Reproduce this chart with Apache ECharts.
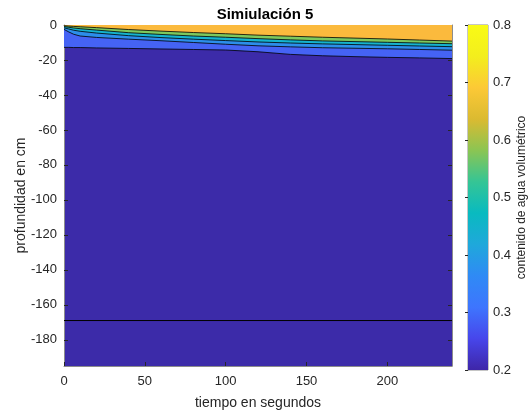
<!DOCTYPE html>
<html>
<head>
<meta charset="utf-8">
<script src="https://cdn.jsdelivr.net/npm/echarts@6/dist/echarts.min.js"></script>
<style>
  html, body { margin: 0; padding: 0; background: #fff; }
  #chart { width: 529px; height: 415px; }
</style>
</head>
<body>
<div id="chart"></div>
<script>
// Time samples (s) shared by every contour line
const tiempo = [0, 3, 6, 10, 20, 40, 60, 80, 100, 120, 140, 160, 180, 200, 220, 240];

// Depth (cm) of each water-content contour along time
const nivel03 = [-12.8, -12.8, -12.9, -12.9, -13.1, -13.4, -13.7, -14.0, -14.3, -15.3, -16.8, -17.6, -18.1, -18.5, -18.8, -19.2];
const nivel04 = [-2.5, -4.0, -5.3, -6.3, -7.1, -8.1, -9.0, -10.0, -11.0, -11.9, -12.5, -13.0, -13.3, -13.6, -14.0, -14.4];
const nivel05 = [-1.6, -2.3, -3.0, -3.6, -4.6, -6.1, -7.2, -8.1, -8.9, -9.7, -10.3, -10.8, -11.2, -11.6, -12.0, -12.4];
const nivel06 = [-0.9, -1.3, -1.7, -2.1, -2.9, -4.4, -5.4, -6.3, -7.0, -7.8, -8.5, -9.1, -9.5, -9.9, -10.3, -10.7];
const nivel07 = [-0.4, -0.6, -0.8, -1.0, -1.5, -2.6, -3.5, -4.3, -5.0, -5.8, -6.4, -7.0, -7.5, -8.0, -8.6, -9.2];

// Deep contour line (0.2 level), horizontal
const tiempoFondo = [0, 240];
const nivel02 = [-169, -169];

// Contour levels and tick labels
const niveles = [0.3, 0.4, 0.5, 0.6, 0.7];
const ticksTiempo = [0, 50, 100, 150, 200];
const ticksProf = [0, -20, -40, -60, -80, -100, -120, -140, -160, -180];
const ticksColor = [0.2, 0.3, 0.4, 0.5, 0.6, 0.7, 0.8];

// parula colormap stops (bottom -> top)
const parula = [
  '#3E26A8', '#4746EB', '#3E75FE', '#2F8AF5', '#1FA8DB', '#09BAC0',
  '#35C595', '#8BC553', '#DBBA31', '#FCC936', '#F3EE1D', '#F9FB15'
];
const colorNivel = {
  0.2: '#3C2BA9',
  0.3: '#4563F4',
  0.4: '#2C8EEA',
  0.5: '#15B3CE',
  0.6: '#7CC85E',
  0.7: '#FBBA3D'
};

const contornos = [nivel03, nivel04, nivel05, nivel06, nivel07];

const font = 'Liberation Sans, Arial, Helvetica, sans-serif';
const txt = '#262626';
const frame = '#8c8c8c';

const series = contornos.map((arr, i) => ({
  type: 'line',
  xAxisIndex: 0, yAxisIndex: 0,
  data: tiempo.map((t, k) => [t, arr[k]]),
  symbol: 'none',
  smooth: false,
  lineStyle: { color: '#000', width: 0.8 },
  areaStyle: { origin: 'end', color: colorNivel[niveles[i]], opacity: 1 },
  z: 2 + i,
  silent: true
}));

series.push({
  type: 'line',
  xAxisIndex: 0, yAxisIndex: 0,
  data: tiempoFondo.map((t, k) => [t, nivel02[k]]),
  symbol: 'none',
  lineStyle: { color: '#000', width: 1 },
  z: 10,
  silent: true
});

// Colour bar strip
series.push({
  type: 'line',
  xAxisIndex: 2, yAxisIndex: 2,
  data: [[0, 0.8], [1, 0.8]],
  symbol: 'none',
  lineStyle: { width: 0 },
  areaStyle: {
    origin: 'start',
    opacity: 1,
    color: new echarts.graphic.LinearGradient(0, 1, 0, 0,
      parula.map((c, i) => ({ offset: i / (parula.length - 1), color: c })))
  },
  silent: true
});

const option = {
  animation: false,
  backgroundColor: '#fff',
  title: {
    text: 'Simiulación 5',
    left: 260, top: 2, textAlign: 'center',
    textStyle: { fontFamily: font, fontSize: 15, fontWeight: 'bold', color: '#000' }
  },
  grid: [
    { left: 64, right: 77, top: 25, bottom: 45, show: true, backgroundColor: colorNivel[0.2], borderWidth: 0 },
    { left: 468, width: 21, top: 25, bottom: 45, show: true, borderColor: frame, borderWidth: 1 }
  ],
  xAxis: [
    {
      gridIndex: 0, type: 'value', min: 0, max: 240, position: 'bottom',
      name: 'tiempo en segundos', nameLocation: 'middle', nameGap: 30, nameMoveOverlap: false,
      nameTextStyle: { fontFamily: font, fontSize: 14, color: txt },
      axisLine: { show: true, onZero: false, lineStyle: { color: frame, width: 1 } },
      axisTick: { show: true, inside: true, length: 4, customValues: ticksTiempo, lineStyle: { color: txt } },
      axisLabel: { customValues: ticksTiempo, fontFamily: font, fontSize: 13, color: txt, margin: 9 },
      splitLine: { show: false }
    },
    {
      gridIndex: 0, type: 'value', min: 0, max: 240, position: 'top',
      axisLine: { show: true, onZero: false, lineStyle: { color: frame, width: 1 } },
      axisTick: { show: true, inside: true, length: 4, customValues: ticksTiempo, lineStyle: { color: txt } },
      axisLabel: { show: false },
      splitLine: { show: false }
    },
    {
      gridIndex: 1, type: 'value', min: 0, max: 1, show: false
    }
  ],
  yAxis: [
    {
      gridIndex: 0, type: 'value', min: -195, max: 0, position: 'left',
      name: 'profundidad en cm', nameLocation: 'middle', nameGap: 36, nameRotate: 90, nameMoveOverlap: false,
      nameTextStyle: { fontFamily: font, fontSize: 14, color: txt },
      axisLine: { show: true, onZero: false, lineStyle: { color: frame, width: 1 } },
      axisTick: { show: true, inside: true, length: 4, customValues: ticksProf, lineStyle: { color: txt } },
      axisLabel: { customValues: ticksProf, fontFamily: font, fontSize: 13, color: txt, margin: 7 },
      splitLine: { show: false }
    },
    {
      gridIndex: 0, type: 'value', min: -195, max: 0, position: 'right',
      axisLine: { show: true, onZero: false, lineStyle: { color: frame, width: 1 } },
      axisTick: { show: true, inside: true, length: 4, customValues: ticksProf, lineStyle: { color: txt } },
      axisLabel: { show: false },
      splitLine: { show: false }
    },
    {
      gridIndex: 1, type: 'value', min: 0.2, max: 0.8, position: 'right',
      name: 'contenido de agua volumétrico', nameLocation: 'middle', nameGap: 28, nameRotate: 90, nameMoveOverlap: false,
      nameTextStyle: { fontFamily: font, fontSize: 12, color: txt },
      axisLine: { show: true, lineStyle: { color: frame, width: 1 } },
      axisTick: { show: true, inside: true, length: 3, customValues: ticksColor, lineStyle: { color: txt } },
      axisLabel: {
        customValues: ticksColor, fontFamily: font, fontSize: 13, color: txt, margin: 5,
        formatter: v => v.toFixed(1)
      },
      splitLine: { show: false }
    }
  ],
  series: series
};

const chart = echarts.init(document.getElementById('chart'), null, { renderer: 'canvas' });
chart.setOption(option);
</script>
</body>
</html>
